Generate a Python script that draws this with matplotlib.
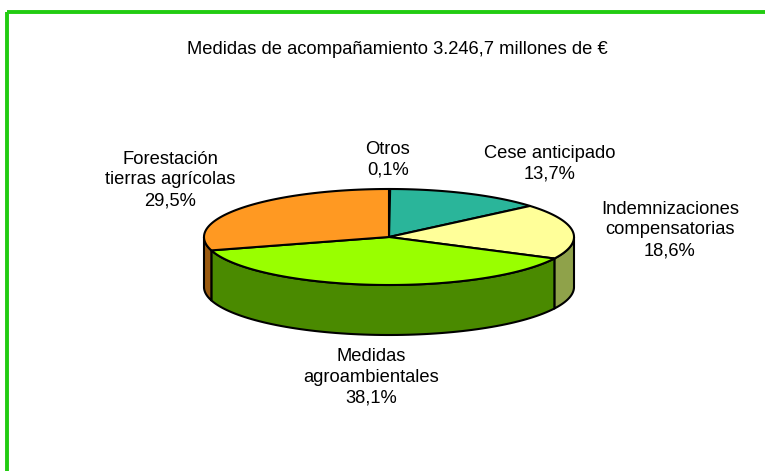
import numpy as np
import matplotlib
matplotlib.use("Agg")
import matplotlib.pyplot as plt
from matplotlib.patches import Polygon, Rectangle

plt.rcParams['font.family'] = ['Liberation Sans', 'DejaVu Sans']

# Data: share of the accompanying-measures budget
categories = ["Otros", "Cese anticipado", "Indemnizaciones\ncompensatorias",
              "Medidas\nagroambientales", "Forestación\ntierras agrícolas"]
shares = [0.1, 13.7, 18.6, 38.1, 29.5]
share_labels = ["0,1%", "13,7%", "18,6%", "38,1%", "29,5%"]
title = "Medidas de acompañamiento 3.246,7 millones de €"

top_colors = ["#2ab59a", "#2ab59a", "#ffff99", "#99ff00", "#ff9922"]
side_colors = ["#1c7a68", "#1c7a68", "#8fa24a", "#4a8a00", "#9a5a10"]

W, H = 765, 471
fig = plt.figure(figsize=(W / 100, H / 100), dpi=100)
ax = fig.add_axes([0, 0, 1, 1])
ax.set_xlim(0, W)
ax.set_ylim(H, 0)
ax.axis("off")

# Frame
ax.add_patch(Rectangle((7, 12), W + 20, H + 20, fill=False,
                       edgecolor="#22cc11", linewidth=2.8))

# Ellipse geometry (pixel space)
cx, cy, a, b, depth = 389, 237, 185, 48, 50


def pt(theta_deg, dy=0.0):
    t = np.radians(theta_deg)
    return cx + a * np.cos(t), cy - b * np.sin(t) + dy


# Slice angles: start at 90 deg, go clockwise
fr = np.array(shares) / np.sum(shares)
bounds = 90 - 360 * np.concatenate([[0], np.cumsum(fr)])

# Side walls (front half only: angles in (180, 360) mod 360)
for i in range(len(shares)):
    t_start, t_end = bounds[i + 1], bounds[i]  # t_start < t_end
    for k in range(-1, 2):
        lo = max(t_start, 180 + 360 * k)
        hi = min(t_end, 360 + 360 * k)
        if hi > lo:
            ts = np.linspace(lo, hi, 80)
            top = [pt(t) for t in ts]
            bot = [pt(t, depth) for t in ts[::-1]]
            ax.add_patch(Polygon(top + bot, closed=True,
                                 facecolor=side_colors[i], edgecolor="black",
                                 linewidth=1.5, joinstyle="round", zorder=2))

# Top faces
for i in range(len(shares)):
    t_start, t_end = bounds[i + 1], bounds[i]
    ts = np.linspace(t_start, t_end, max(int(abs(t_end - t_start)) * 2, 4))
    verts = [(cx, cy)] + [pt(t) for t in ts]
    ax.add_patch(Polygon(verts, closed=True, facecolor=top_colors[i],
                         edgecolor="black", linewidth=1.5,
                         joinstyle="round", zorder=3))

# Title and labels
ax.text(397, 49, title, ha="center", va="center", fontsize=13.2)

label_pos = [(388, 160), (550, 164), (670, 230), (371, 377), (170, 180)]
for cat, lab, (x, y) in zip(categories, share_labels, label_pos):
    ax.text(x, y, cat + "\n" + lab, ha="center", va="center",
            fontsize=13.2, linespacing=1.3)

fig.savefig("out.png", dpi=100)
